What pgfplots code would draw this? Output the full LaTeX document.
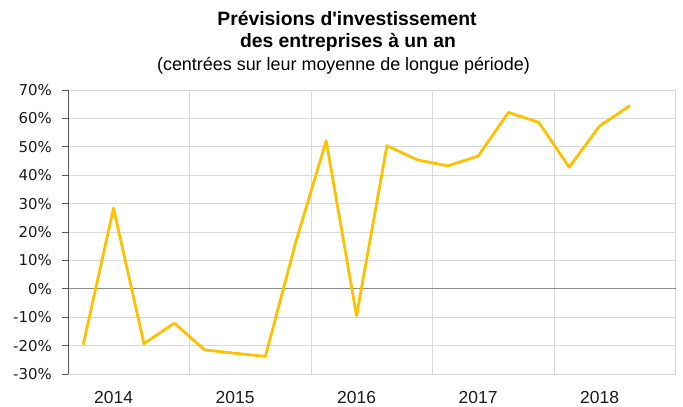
\documentclass[border=0pt]{standalone}
\usepackage{pgfplots}
\pgfplotsset{compat=1.18}
\usepackage{fontspec}
\setmainfont{Liberation Sans}
\newfontfamily\tickfont{DejaVu Sans}
\definecolor{gold}{HTML}{FFC000}
\definecolor{gridgray}{HTML}{D9D9D9}
\definecolor{zerogray}{HTML}{8C8C8C}
\definecolor{axisgray}{HTML}{595959}
\definecolor{txt}{HTML}{1A1A1A}
\begin{document}
\begin{tikzpicture}
\useasboundingbox (-68bp,-33bp) rectangle (615bp,374bp);
\begin{axis}[
  at={(0,0)}, anchor=south west,
  scale only axis, width=607.5bp, height=284bp,
  xmin=-0.5, xmax=19.5, ymin=-30, ymax=70,
  axis line style={draw=gridgray, line width=0.8bp},
  /pgf/number format/assume math mode=true,
  xtick={1,5,9,13,17},
  xticklabels={2014,2015,2016,2017,2018},
  extra x ticks={3.5,7.5,11.5,15.5},
  extra x tick labels={},
  extra x tick style={xmajorgrids=true, major tick length=0pt},
  ytick={-30,-20,...,70},
  yticklabel={\pgfmathprintnumber{\tick}\%},
  ymajorgrids=true,
  grid style={gridgray, line width=0.8bp},
  tick align=outside,
  ytick pos=left,
  xtick pos=bottom,
  x tick style={draw=none},
  y tick style={axisgray, line width=0.8bp},
  major tick length=6bp,
  yticklabel style={font=\tickfont\fontsize{15}{15}\selectfont, text=txt, inner sep=0pt, xshift=-10bp},
  xticklabel style={font=\fontsize{17.5}{17.5}\selectfont, text=txt, inner sep=0pt, yshift=-11bp},
  clip=false,
]
\draw[zerogray, line width=1bp] (axis cs:-0.5,0) -- (axis cs:19.5,0);
\draw[axisgray, line width=1bp] (rel axis cs:0,0) -- (rel axis cs:0,1);
\addplot[gold, line width=2.8bp, line join=round] coordinates {
(0,-19.7) (1,28.4) (2,-19.3) (3,-12.1) (4,-21.5) (5,-22.7) (6,-23.8) (7,16.5)
(8,52.1) (9,-9.5) (10,50.4) (11,45.4) (12,43.3) (13,46.7) (14,62.1) (15,58.6)
(16,42.8) (17,57.3) (18,64.5)
};
\end{axis}
\node[anchor=base, text=black, font=\bfseries\fontsize{19.4}{19.4}\selectfont] at (279bp,348bp) {Prévisions d\textquotesingle investissement};
\node[anchor=base, text=black, font=\bfseries\fontsize{19.4}{19.4}\selectfont] at (280bp,326.3bp) {des entreprises à un an};
\node[anchor=base, text=black, font=\fontsize{18}{18}\selectfont] at (275.5bp,303bp) {(centrées sur leur moyenne de longue période)};
\end{tikzpicture}
\end{document}
